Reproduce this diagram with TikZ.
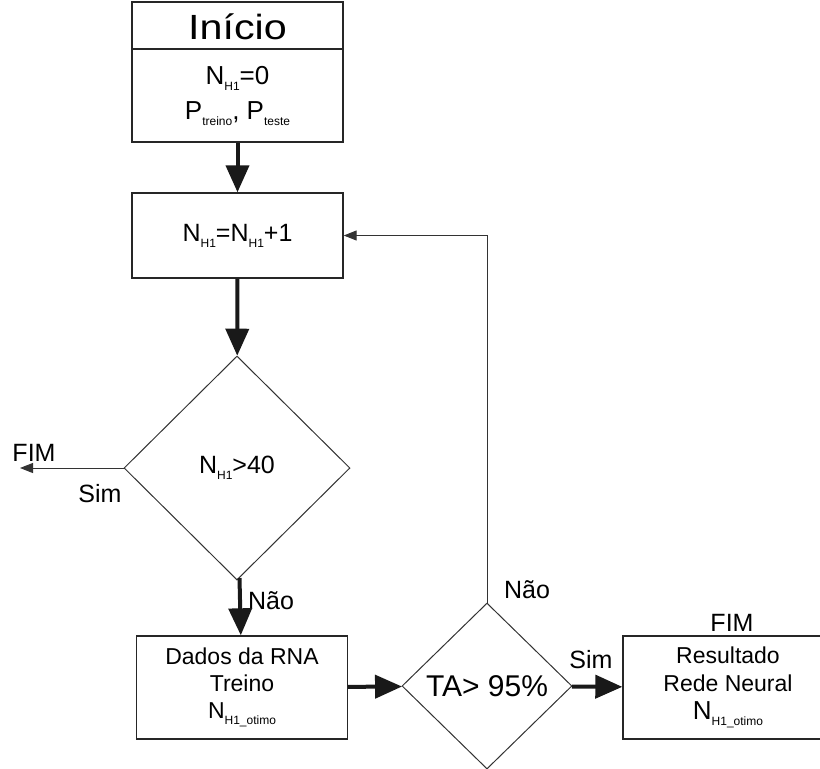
\documentclass[tikz,border=0pt]{standalone}
\usepackage{fontspec}
\setmainfont{Liberation Sans}
\usetikzlibrary{positioning,arrows.meta,shapes.geometric,calc}

\newcommand{\lowidx}[1]{\raisebox{-0.45ex}{\fontsize{12}{12}\selectfont #1}}

\begin{document}
\begin{tikzpicture}[
          x=1pt, y=-1pt,
          box/.style={draw=black!85, line width=1.4pt, minimum width=211pt, inner sep=0pt, align=center},
          cond/.style={diamond, draw=black!80, line width=1pt, inner sep=0pt, font=\fontsize{25}{28}\selectfont},
          txt/.style={font=\fontsize{25}{28}\selectfont, inner sep=0pt},
          arr/.style={-{Triangle[length=27pt,width=23pt]}, line width=4pt, black!90},
          thinarr/.style={-{Triangle[length=13pt,width=10pt]}, line width=1pt, black!80}
      ]
        \useasboundingbox (0,0) rectangle (820,769);
        \clip (0,0) rectangle (820,769);
        % boxes
        \node[box, minimum height=140pt] (ini) at (237.5,72) {};
        \node[txt, font=\fontsize{35}{36}\selectfont] (initit) at (237.5,27) {\scalebox{1.18}[1]{Início}};
        \coordinate (divw) at (132,49);
        \coordinate (dive) at (343,49);
        \draw[black!85, line width=1.2pt] (divw) -- (dive);
        \node[txt, align=center, font=\fontsize{26}{35}\selectfont] (initxt) at (237.5,96)
          {N\lowidx{H1}=0\\P\lowidx{treino}, P\lowidx{teste}};
        \node[box, minimum height=85pt, font=\fontsize{25}{28}\selectfont] (incr) at (237.5,235.5)
          {N\lowidx{H1}=N\lowidx{H1}+1};
        \node[cond, minimum width=226pt, minimum height=224pt] (lim) at (237,468) {N\lowidx{H1}>40};
        \node[box, minimum height=103pt, font=\fontsize{23}{27}\selectfont] (dados) at (242,687.5)
          {Dados da RNA\\Treino\\N\lowidx{H1\_otimo}};
        \node[cond, minimum width=170pt, minimum height=166pt, font=\fontsize{30}{30}\selectfont] (ta) at (487,686) {TA> 95\%};
        \node[box, minimum width=210pt, minimum height=103pt, font=\fontsize{23}{28}\selectfont] (res) at (728,687.5)
          {Resultado\\Rede Neural\\{\fontsize{26}{28}\selectfont N}\lowidx{H1\_otimo}};
        % labels
        \node[txt] (fim1) at (34,453) {FIM};
        \node[txt] (sim1) at (100,494) {Sim};
        \node[txt] (nao1) at (271,601) {Não};
        \node[txt] (nao2) at (527,590) {Não};
        \node[txt] (sim2) at (591,660) {Sim};
        \node[txt] (fim2) at (732,623) {FIM};
        \coordinate (fimend) at (20,468);
        % connectors
        \draw[arr] (ini) -- (incr);
        \draw[arr] (incr) -- (lim);
        \draw[arr] (lim) -- (dados);
        \draw[arr] (dados) -- (ta);
        \draw[arr] (ta) -- (res);
        \draw[thinarr] (lim.west) -- (fimend);
        \draw[thinarr] (ta.north) |- (incr.east);
      \end{tikzpicture}
\end{document}
